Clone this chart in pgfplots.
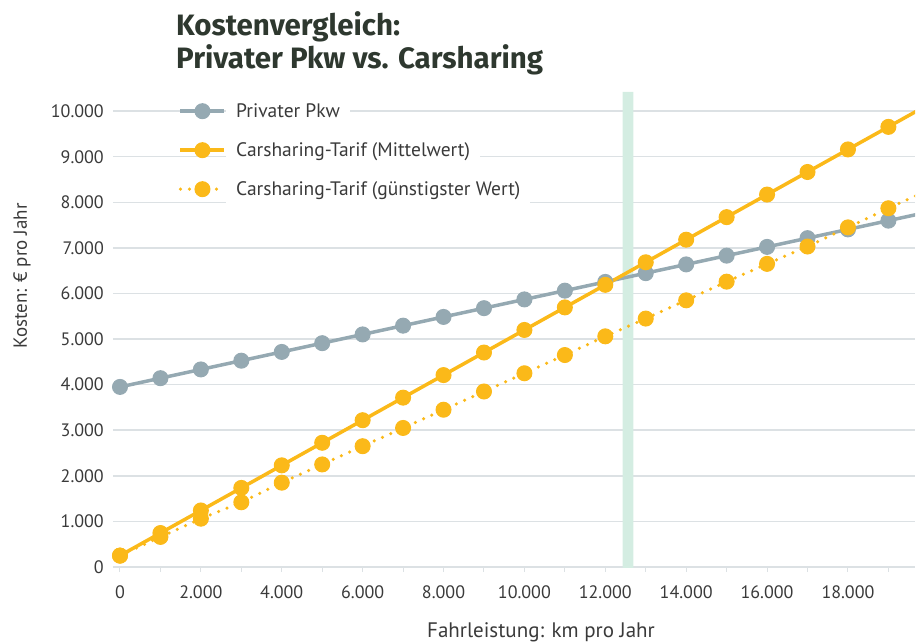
\documentclass[border=0pt]{standalone}
\usepackage{fontspec}
\setmainfont{PT Sans}
\newfontfamily\titlefont{Fira Sans}
\usepackage{pgfplots}
\pgfplotsset{compat=1.18}

\definecolor{pkwgray}{HTML}{95A9B2}
\definecolor{csorange}{HTML}{FBB919}
\definecolor{txtcol}{HTML}{3A3A3A}
\definecolor{titlecol}{HTML}{2E382F}
\definecolor{gridcol}{HTML}{DCE1E4}
\definecolor{bandcol}{HTML}{D4EDE2}

\begin{document}
\begin{tikzpicture}
% fix the page to the reference proportions (1pt ~ 1px)
\useasboundingbox (-113pt,-74pt) rectangle (811pt,567pt);

\begin{axis}[
  scale only axis,
  width=802pt, height=475pt,
  xmin=-173, xmax=19658,
  ymin=0, ymax=10420,
  xtick={0,2000,...,18000},
  minor xtick={1000,3000,...,19000},
  ytick={0,1000,...,10000},
  scaled ticks=false,
  /pgf/number format/1000 sep={.},
  /pgf/number format/assume math mode=true,
  axis x line*=bottom,
  axis y line*=left,
  x axis line style={draw=gridcol, line width=1.5pt},
  y axis line style={draw=none},
  tick align=outside,
  major tick length=5pt, minor tick length=5pt,
  xtick style={draw=gridcol, line width=1pt},
  ytick style={draw=none},
  ymajorgrids=true,
  grid style={gridcol, line width=1.5pt},
  tick label style={font=\fontsize{18}{18}\selectfont, text=txtcol},
  yticklabel style={anchor=east, inner sep=0pt, xshift=-4pt},
  xticklabel style={anchor=north, inner sep=0pt, yshift=-13pt},
  legend cell align=left,
  legend image code/.code={\draw[mark repeat=2,mark phase=2] plot coordinates {(0pt,0pt) (22pt,0pt) (44pt,0pt)};},
  legend style={at={(0.0817,0.9916)}, anchor=north west, draw=none, fill=none,
    inner sep=0pt, row sep=9pt, column sep=0pt,
    font=\fontsize{19.5}{19.5}\selectfont, text=txtcol,
    nodes={fill=white, inner xsep=10pt, inner ysep=0pt, minimum height=30pt}},
]

% highlighted break-even band
\addplot[fill=bandcol, draw=none, forget plot] coordinates {
  (12430,-200) (12693,-200) (12693,10420) (12430,10420) (12430,-200)};

\addplot[color=pkwgray, line width=3.5pt, mark=*, mark size=7.5pt,
  mark options={solid, fill=pkwgray, draw=pkwgray, line width=1pt}]
coordinates {
  (0,3950) (1000,4142) (2000,4334) (3000,4526) (4000,4718)
  (5000,4910) (6000,5102) (7000,5294) (8000,5486) (9000,5678)
  (10000,5870) (11000,6062) (12000,6254) (13000,6446) (14000,6638)
  (15000,6830) (16000,7022) (17000,7214) (18000,7406) (19000,7598)
  (20000,7790)
};
\addlegendentry{Privater Pkw}

\addplot[color=csorange, line width=3.5pt, mark=*, mark size=7.5pt,
  mark options={solid, fill=csorange, draw=csorange, line width=1pt}]
coordinates {
  (0,250) (1000,745) (2000,1240) (3000,1735) (4000,2230)
  (5000,2725) (6000,3220) (7000,3715) (8000,4210) (9000,4705)
  (10000,5200) (11000,5695) (12000,6190) (13000,6685) (14000,7180)
  (15000,7675) (16000,8170) (17000,8665) (18000,9160) (19000,9655)
  (20000,10150)
};
\addlegendentry{Carsharing-Tarif (Mittelwert)}

\addplot[color=csorange, line width=3.5pt, line cap=round,
  dash pattern=on 0pt off 9pt, mark=*, mark size=7.5pt,
  mark options={solid, fill=csorange, draw=csorange, line width=1pt}]
coordinates {
  (0,250) (1000,660) (2000,1060) (3000,1420) (4000,1850)
  (5000,2250) (6000,2650) (7000,3050) (8000,3450) (9000,3850)
  (10000,4250) (11000,4650) (12000,5060) (13000,5450) (14000,5850)
  (15000,6260) (16000,6650) (17000,7030) (18000,7450) (19000,7870)
  (20000,8270)
};
\addlegendentry{Carsharing-Tarif (günstigster Wert)}

\end{axis}

% title and axis titles
\node[anchor=base west, inner sep=0pt, text=titlecol,
  font=\titlefont\fontsize{29.5}{29.5}\selectfont\bfseries] at (63pt,531pt) {Kostenvergleich:};
\node[anchor=base west, inner sep=0pt, text=titlecol,
  font=\titlefont\fontsize{29.5}{29.5}\selectfont\bfseries] at (63pt,498pt) {Privater Pkw vs. Carsharing};
\node[anchor=base, rotate=90, inner sep=0pt, text=txtcol,
  font=\fontsize{19}{19}\selectfont] at (-86pt,291pt) {Kosten: € pro Jahr};
\node[anchor=base, inner sep=0pt, text=txtcol,
  font=\fontsize{21}{21}\selectfont] at (428pt,-70pt) {Fahrleistung: km pro Jahr};
\end{tikzpicture}
\end{document}
